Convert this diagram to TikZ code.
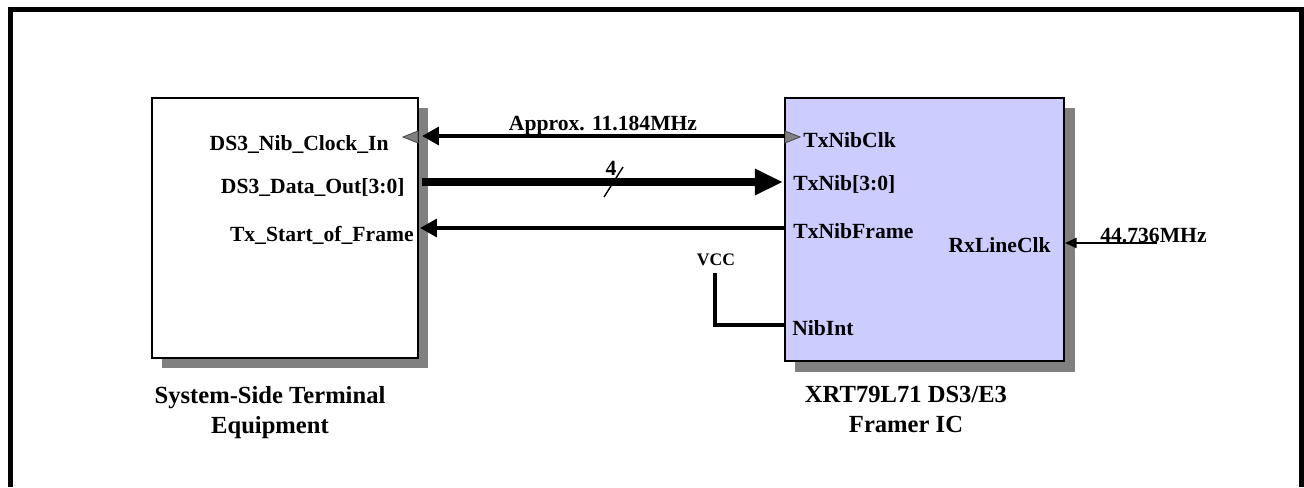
\documentclass[tikz,border=0pt]{standalone}
\usepackage{fontspec}
\setmainfont{Liberation Serif}
\usetikzlibrary{arrows.meta}
\begin{document}
\begin{tikzpicture}[x=0.02cm, y=-0.02cm, line join=miter]
  \definecolor{chipblue}{RGB}{204,204,255}
  \definecolor{shadowgray}{RGB}{128,128,128}
  \tikzset{
    pin/.style={font=\bfseries\fontsize{12.3}{17}\selectfont, inner sep=0pt},
    title/.style={font=\bfseries\fontsize{14}{17}\selectfont, inner sep=0pt, align=center},
    wire/.style={line width=2.5pt},
    bus/.style={line width=5pt},
    clocktri/.style={fill=shadowgray, draw=black!70, line width=0.5pt},
  }
  \useasboundingbox (0,0) rectangle (1304,487);
  \draw[line width=2.8pt] (10.5,487) -- (10.5,9.5) -- (1301.5,9.5) -- (1301.5,487);
  % terminal equipment box
  \fill[shadowgray] (162,108) rectangle (428,368);
  \draw[fill=white, line width=0.8pt] (152,98) rectangle (418,358);
  % framer box
  \fill[shadowgray] (795,108) rectangle (1075,372);
  \draw[fill=chipblue, line width=0.8pt] (785,98) rectangle (1064,361);
  % clock pins
  \filldraw[clocktri] (418,131) -- (418,143) -- (403,137) -- cycle;
  \filldraw[clocktri] (785,131) -- (785,143) -- (800,137) -- cycle;
  \coordinate (clkL) at (422,136);
  \coordinate (clkR) at (785,136);
  \coordinate (busL) at (422,182);
  \coordinate (busR) at (783,182);
  \coordinate (frL) at (420,228);
  \coordinate (frR) at (785,228);
  \coordinate (vccTop) at (715,273);
  \coordinate (nibPin) at (785,325);
  \coordinate (rxL) at (1065,243);
  \coordinate (rxR) at (1157,243);
  \draw[wire, {Triangle[length=9.6pt,width=10pt]}-] (clkL) -- (clkR);
  \draw[bus, -{Triangle[length=16pt,width=14pt]}] (busL) -- (busR);
  \draw[wire, {Triangle[length=9.6pt,width=10pt]}-] (frL) -- (frR);
  \draw[wire] (vccTop) |- (nibPin);
  \draw[line width=1.1pt, {Triangle[length=6.6pt,width=5.7pt]}-] (rxL) -- (rxR);
  \draw[line width=0.8pt] (604,197) -- (623,167);
  % labels
  \node[pin, anchor=base east] (clkin) at (389,150) {DS3\_Nib\_Clock\_In};
  \node[pin, anchor=base east] (dataout) at (405,193) {DS3\_Data\_Out[3:0]};
  \node[pin, anchor=base east] (sof) at (414,241) {Tx\_Start\_of\_Frame};
  \node[pin, anchor=base west] (txclk) at (803,147) {TxNibClk};
  \node[pin, anchor=base west] (txnib) at (793,190) {TxNib[3:0]};
  \node[pin, anchor=base west] (txframe) at (793,238) {TxNibFrame};
  \node[pin, anchor=base east] (rxclk) at (1051,252) {RxLineClk};
  \node[pin, anchor=base west] (nibint) at (792,335) {NibInt};
  \node[pin, anchor=base, font=\bfseries\fontsize{10}{12}\selectfont] (vcc) at (716,265) {VCC};
  \node[pin, anchor=base west] (freq) at (1100,242) {44.736MHz};
  \node[pin, anchor=base] (approx) at (603,130) {Approx. 11.184MHz};
  \node[pin, anchor=base] (width) at (611,175) {4};
  \node[title, anchor=north] (termname) at (270,386) {System-Side Terminal\\Equipment};
  \node[title, anchor=north] (chipname) at (906,386) {XRT79L71 DS3/E3\\Framer IC};
\end{tikzpicture}
\end{document}
